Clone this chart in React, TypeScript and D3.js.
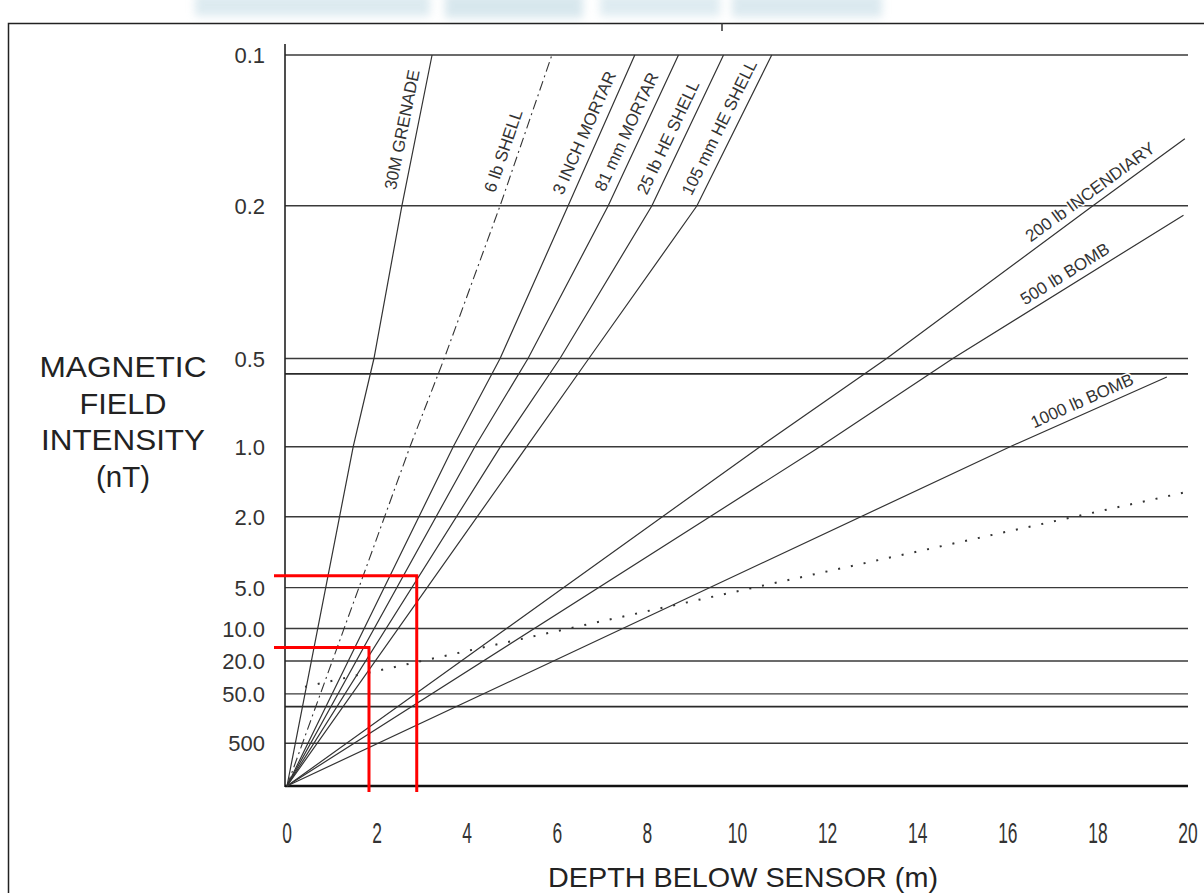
import React from "react";
import * as d3 from "d3";

const depthTicks = [0, 2, 4, 6, 8, 10, 12, 14, 16, 18, 20];
const fieldTicks = [0.1, 0.2, 0.5, 1.0, 2.0, 5.0, 10.0, 20.0, 50.0, 500];
const fieldTickLabels = ["0.1", "0.2", "0.5", "1.0", "2.0", "5.0", "10.0", "20.0", "50.0", "500"];
const extraRuleFields = [0.558, 78];

const ordnanceNames = [
  "30M GRENADE",
  "6 lb SHELL",
  "3 INCH MORTAR",
  "81 mm MORTAR",
  "25 lb HE SHELL",
  "105 mm HE SHELL",
  "200 lb INCENDIARY",
  "500 lb BOMB",
  "1000 lb BOMB",
];

const steepFields = [Infinity, 1.0, 0.5, 0.2, 0.1];
const grenadeDepths = [0, 1.47, 1.93, 2.55, 3.22];
const shell6Depths = [0, 2.73, 3.49, 4.73, 5.88];
const mortar3Depths = [0, 3.69, 4.73, 6.24, 7.72];
const mortar81Depths = [0, 4.17, 5.35, 7.13, 8.69];
const shell25Depths = [0, 4.74, 6.06, 8.1, 9.69];
const shell105Depths = [0, 5.32, 6.7, 9.1, 10.76];

const incendiaryFields = [Infinity, 1.0, 0.5, 0.2, 0.144];
const incendiaryDepths = [0, 10.5, 13.31, 17.89, 19.93];
const bomb500Fields = [Infinity, 1.0, 0.5, 0.21];
const bomb500Depths = [0, 11.83, 14.78, 19.9];
const bomb1000Fields = [Infinity, 1.0, 0.571];
const bomb1000Depths = [0, 16.05, 19.53];

const dottedFields = [40, 1.54];
const dottedDepths = [0.4, 19.95];

const labelFields = [0.14, 0.156, 0.144, 0.1435, 0.1475, 0.141, 0.1965, 0.31, 0.749];

const markerDepths = [2.88, 1.82];
const markerFields = [4.2, 14.7];

const yTitleLines = ["MAGNETIC", "FIELD", "INTENSITY", "(nT)"];
const yTitleWidths = [167, 87, 164, 54];
const xTitle = "DEPTH BELOW SENSOR (m)";

// ---------- layout ----------
const W = 1204;
const H = 893;
const FONT = "'Liberation Sans', Arial, Helvetica, sans-serif";

const toT = (f: number) => Math.pow(f, -1 / 3); // field falls as depth^-3

const x = d3.scaleLinear().domain([0, 20]).range([287, 1188]);
const y = d3.scaleLinear().domain([0, toT(0.1)]).range([786, 55]);

type P = { depth: number; field: number };
const zip = (ds: number[], fs: number[]): P[] => ds.map((d, i) => ({ depth: d, field: fs[i] }));

const ordnanceSeries: P[][] = [
  zip(grenadeDepths, steepFields),
  zip(shell6Depths, steepFields),
  zip(mortar3Depths, steepFields),
  zip(mortar81Depths, steepFields),
  zip(shell25Depths, steepFields),
  zip(shell105Depths, steepFields),
  zip(incendiaryDepths, incendiaryFields),
  zip(bomb500Depths, bomb500Fields),
  zip(bomb1000Depths, bomb1000Fields),
];

const px = (p: P) => x(p.depth);
const py = (p: P) => y(toT(p.field));

const lineGen = d3
  .line<P>()
  .x(px)
  .y(py);

// find point on polyline at a given pixel y, with local angle
function pointAtY(series: P[], yy: number) {
  const pts = series.map((p) => [px(p), py(p)]);
  for (let i = 0; i < pts.length - 1; i++) {
    const [x0, y0] = pts[i];
    const [x1, y1] = pts[i + 1];
    if ((yy <= y0 && yy >= y1) || (yy >= y0 && yy <= y1)) {
      const f = (yy - y0) / (y1 - y0);
      const ang = (Math.atan2(y1 - y0, x1 - x0) * 180) / Math.PI;
      return { x: x0 + f * (x1 - x0), y: yy, ang };
    }
  }
  const [xa, ya] = pts[pts.length - 2];
  const [xb, yb] = pts[pts.length - 1];
  return { x: xb, y: yb, ang: (Math.atan2(yb - ya, xb - xa) * 180) / Math.PI };
}

export default function App() {
  const x0 = x(0);
  const x1 = x(20);
  const yBase = y(0);

  return (
    <svg
      width={W}
      height={H}
      viewBox={`0 0 ${W} ${H}`}
      style={{ position: "absolute", left: 0, top: 0, display: "block", background: "#fff" }}
    >
      <defs>
        <filter id="soft" x="-20%" y="-80%" width="140%" height="260%">
          <feGaussianBlur stdDeviation="4" />
        </filter>
      </defs>
      <rect x={0} y={0} width={W} height={H} fill="#fff" />

      {/* faint header remnants */}
      <g filter="url(#soft)" opacity={0.6}>
        <rect x={195} y={-6} width={235} height={22} fill="#c6dde6" />
        <rect x={445} y={-6} width={138} height={24} fill="#bed8e2" />
        <rect x={600} y={-6} width={120} height={22} fill="#c9dfe8" />
        <rect x={732} y={-6} width={150} height={23} fill="#c4dbe5" />
      </g>

      {/* page frame */}
      <path d={`M8.5,${H} V23.5 H${W}`} fill="none" stroke="#222" strokeWidth={1.5} />
      <line x1={722} x2={722} y1={23} y2={31} stroke="#333" strokeWidth={1.5} />

      {/* horizontal field rules */}
      {fieldTicks.map((f, i) => (
        <line
          key={"r" + i}
          x1={x0 - 2}
          x2={x1}
          y1={y(toT(f))}
          y2={y(toT(f))}
          stroke="#3a3a3a"
          strokeWidth={1.4}
        />
      ))}
      {extraRuleFields.map((f, i) => (
        <line
          key={"e" + i}
          x1={x0 - 2}
          x2={x1}
          y1={y(toT(f))}
          y2={y(toT(f))}
          stroke="#2a2a2a"
          strokeWidth={1.6}
        />
      ))}

      {/* axes frame */}
      <line x1={x0 - 2} x2={x0 - 2} y1={44} y2={yBase + 1} stroke="#222" strokeWidth={1.6} />
      <line x1={x0 - 2} x2={x1} y1={yBase} y2={yBase} stroke="#111" strokeWidth={2.6} />

      {/* ordnance lines */}
      {ordnanceSeries.map((s, i) => (
        <path
          key={"o" + i}
          d={lineGen(s) || ""}
          fill="none"
          stroke="#333"
          strokeWidth={i === 1 ? 1.1 : 1.2}
          strokeDasharray={i === 1 ? "10,4,2,4" : undefined}
        />
      ))}
      <path
        d={lineGen(zip(dottedDepths, dottedFields)) || ""}
        fill="none"
        stroke="#333"
        strokeWidth={2}
        strokeDasharray="2,11"
      />

      {/* ordnance labels */}
      {ordnanceSeries.map((s, i) => {
        const p = pointAtY(s, y(toT(labelFields[i])));
        return (
          <g key={"l" + i} transform={`translate(${p.x},${p.y}) rotate(${p.ang})`}>
            <text
              x={0}
              y={i < 6 ? -9 : -7}
              textAnchor="middle"
              fontFamily={FONT}
              fontSize={17}
              fill="#333"
              stroke="#fff"
              strokeWidth={3}
              paintOrder="stroke"
            >
              {ordnanceNames[i]}
            </text>
          </g>
        );
      })}

      {/* y tick labels */}
      {fieldTicks.map((f, i) => (
        <text
          key={"yt" + i}
          x={x0 - 22}
          y={y(toT(f)) + 8}
          textAnchor="end"
          fontFamily={FONT}
          fontSize={22}
          fill="#333"
        >
          {fieldTickLabels[i]}
        </text>
      ))}

      {/* x tick labels (condensed) */}
      {depthTicks.map((d) => (
        <g key={"xt" + d} transform={`translate(${x(d)},843) scale(0.6,1)`}>
          <text x={0} y={0} textAnchor="middle" fontFamily={FONT} fontSize={29} fill="#333">
            {String(d)}
          </text>
        </g>
      ))}

      {/* axis titles */}
      <text
        x={743}
        y={887}
        textAnchor="middle"
        fontFamily={FONT}
        fontSize={28}
        fill="#222"
        textLength={390}
        lengthAdjust="spacingAndGlyphs"
      >
        {xTitle}
      </text>
      {yTitleLines.map((t, i) => (
        <text
          key={"yl" + i}
          x={123}
          y={377 + i * 36.5}
          textAnchor="middle"
          fontFamily={FONT}
          fontSize={30}
          fill="#222"
          textLength={yTitleWidths[i]}
          lengthAdjust="spacingAndGlyphs"
        >
          {t}
        </text>
      ))}

      {/* red reading markers */}
      {markerDepths.map((d, i) => {
        const yy = y(toT(markerFields[i]));
        const xx = x(d);
        return (
          <path
            key={"m" + i}
            d={`M${x0 - 13},${yy} H${xx} V${yBase + 6}`}
            fill="none"
            stroke="#ff0000"
            strokeWidth={3}
          />
        );
      })}
    </svg>
  );
}
